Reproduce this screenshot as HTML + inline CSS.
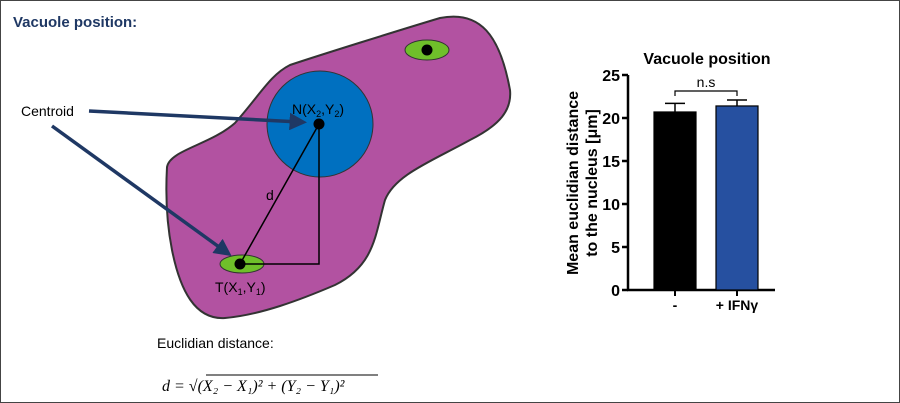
<!DOCTYPE html>
<html><head><meta charset="utf-8"><style>
body{margin:0;background:#fff}
svg{display:block;font-family:"Liberation Sans",sans-serif}
</style></head><body>
<svg width="900" height="403" viewBox="0 0 900 403">
<rect x="0.5" y="0.5" width="899" height="402" fill="#fff" stroke="#444"/>
<text x="13" y="27" font-size="15" font-weight="bold" fill="#1f3864">Vacuole position:</text>
<path d="M167,167 C170,150 210,145 235,123 C260,95 270,75 290,65 C320,55 400,30 440,18 C480,10 500,35 510,90 C512,110 500,125 470,140 C430,162 395,175 385,200 C375,235 375,265 335,285 C300,300 260,315 225,318 C195,320 180,290 172,250 C165,215 166,185 167,167 Z" fill="#b252a1" stroke="#333" stroke-width="2"/>
<circle cx="320" cy="124" r="53" fill="#0070c0" stroke="#333" stroke-width="1"/>
<ellipse cx="427" cy="50" rx="22" ry="10" fill="#6fbf2a" stroke="#333"/>
<circle cx="427" cy="50" r="5.5" fill="#000"/>
<ellipse cx="242" cy="264" rx="22" ry="9" fill="#6fbf2a" stroke="#333"/>
<polyline points="319,124 319,264 240,264 319,124" fill="none" stroke="#000" stroke-width="1.5"/>
<circle cx="319" cy="124" r="5.5" fill="#000"/>
<circle cx="240" cy="264" r="5.5" fill="#000"/>
<text x="292" y="114" font-size="14">N(X<tspan font-size="9" dy="3">2</tspan><tspan dy="-3">,Y</tspan><tspan font-size="9" dy="3">2</tspan><tspan dy="-3">)</tspan></text>
<text x="215" y="292" font-size="14">T(X<tspan font-size="9" dy="3">1</tspan><tspan dy="-3">,Y</tspan><tspan font-size="9" dy="3">1</tspan><tspan dy="-3">)</tspan></text>
<text x="266" y="200" font-size="14">d</text>
<text x="21" y="116" font-size="14">Centroid</text>
<defs><marker id="ah" markerWidth="5" markerHeight="5" refX="3" refY="2.5" orient="auto"><path d="M0,0 L5,2.5 L0,5 Z" fill="#1f3864"/></marker></defs>
<line x1="89" y1="111" x2="300" y2="122" stroke="#1f3864" stroke-width="3.5" marker-end="url(#ah)"/>
<line x1="52" y1="126" x2="226" y2="252" stroke="#1f3864" stroke-width="3.5" marker-end="url(#ah)"/>
<text x="157" y="348" font-size="14">Euclidian distance:</text>
<text x="162" y="391" font-size="16" font-family="Liberation Serif,serif" font-style="italic">d = √(X₂ − X₁)² + (Y₂ − Y₁)²</text>
<line x1="206" y1="375" x2="378" y2="375" stroke="#000" stroke-width="1"/>
<g id="chart"></g>
</svg>
<script>
const categories=["-","+ IFNγ"];
const means=[20.7,21.4];
const errors=[1.0,0.7];
const ticks=[0,5,10,15,20,25];
const colors=["#000000","#2650a0"];
const NS="http://www.w3.org/2000/svg";
const g=document.getElementById('chart');
const y0=290,pxPer=8.6,ax=628;
const y=v=>y0-v*pxPer;
const xc=i=>675+i*62;
function mk(t,a,txt){const e=document.createElementNS(NS,t);for(const k in a)e.setAttribute(k,a[k]);if(txt!==undefined)e.textContent=txt;g.appendChild(e);return e;}
let e=mk('line',{x1:ax,y1:y(25),x2:ax,y2:y0+1,stroke:'#000','stroke-width':2.5});


e=mk('line',{x1:ax-1,y1:y0,x2:775,y2:y0,stroke:'#000','stroke-width':2.5});


ticks.forEach(t=>{
 let l=mk('line',{x1:ax-6,y1:y(t),x2:ax,y2:y(t),stroke:'#000','stroke-width':2.5});
 
 
 let s=mk('text',{x:ax-8,y:y(t)+6,'font-size':16,'font-weight':'bold','text-anchor':'end'},t);
 
 
});
categories.forEach((c,i)=>{
 const cx=xc(i);
 let b=mk('rect',{x:cx-21,y:y(means[i]),width:42,height:y0-y(means[i]),fill:colors[i],stroke:'#000','stroke-width':1.2});
 
 
 let eb=mk('path',{d:`M${cx},${y(means[i])} V${y(means[i]+errors[i])} M${cx-10},${y(means[i]+errors[i])} H${cx+10}`,stroke:'#000','stroke-width':1.5,fill:'none'});
 
 
 let tk=mk('line',{x1:cx,y1:y0,x2:cx,y2:y0+6,stroke:'#000','stroke-width':2});
 
 
 let tl=mk('text',{x:cx,y:y0+20,'font-size':14,'font-weight':'bold','text-anchor':'middle'},c);
 
 
});
e=mk('path',{d:`M${xc(0)},96 V91 H${xc(1)} V96`,stroke:'#000','stroke-width':1.2,fill:'none'});


e=mk('text',{x:(xc(0)+xc(1))/2,y:87,'font-size':14,'text-anchor':'middle'},'n.s');


e=mk('text',{x:707,y:64,'font-size':16,'font-weight':'bold','text-anchor':'middle'},'Vacuole position');


e=mk('text',{transform:'translate(578,183) rotate(-90)','font-size':16,'font-weight':'bold','text-anchor':'middle'},'Mean euclidian distance');


e=mk('text',{transform:'translate(597,183) rotate(-90)','font-size':16,'font-weight':'bold','text-anchor':'middle'},'to the nucleus [μm]');


</script>
</body></html>
